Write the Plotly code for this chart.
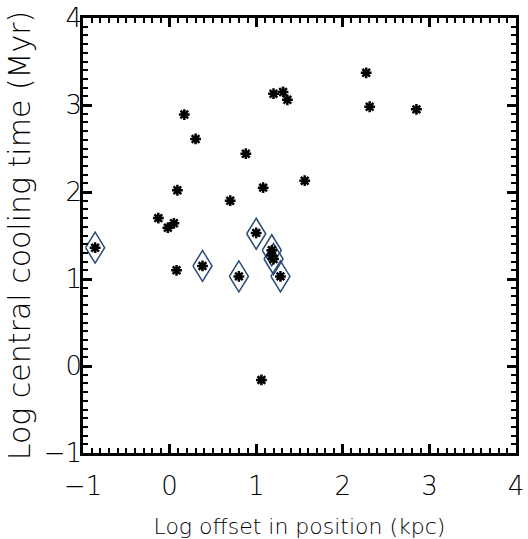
import plotly.graph_objects as go

# Data
star_x = [-0.86, -0.13, -0.02, 0.05, 0.08, 0.09, 0.17, 0.30, 0.38, 0.70, 0.80, 0.88, 1.00,
          1.08, 1.06, 1.18, 1.18, 1.20, 1.28, 1.20, 1.31, 1.36, 1.56, 2.27, 2.31, 2.85]
star_y = [1.36, 1.70, 1.59, 1.64, 1.10, 2.02, 2.89, 2.61, 1.15, 1.90, 1.03, 2.44, 1.53,
          2.05, -0.16, 1.33, 1.27, 1.23, 1.03, 3.13, 3.15, 3.06, 2.13, 3.37, 2.98, 2.95]

diamond_x = [-0.86, 0.38, 0.80, 1.00, 1.18, 1.20, 1.28]
diamond_y = [1.36, 1.15, 1.03, 1.52, 1.33, 1.23, 1.03]

x_range = [-1, 4]
y_range = [-1, 4]

# diamond outline half sizes (data units)
dw, dh = 0.11, 0.178
dxs, dys = [], []
for cx, cy in zip(diamond_x, diamond_y):
    dxs += [cx - dw, cx, cx + dw, cx, cx - dw, None]
    dys += [cy, cy + dh, cy, cy - dh, cy, None]

fig = go.Figure()
fig.add_trace(go.Scatter(x=dxs, y=dys, mode="lines",
                         line=dict(color="#2a4a78", width=1.5),
                         hoverinfo="skip", showlegend=False))
fig.add_trace(go.Scatter(x=star_x, y=star_y, mode="markers",
                         marker=dict(symbol="asterisk-open", size=9, color="black",
                                     line=dict(color="black", width=2.5)),
                         showlegend=False))

tickfont = dict(family="DejaVu Sans", size=26, color="black", weight=200)
xtitlefont = dict(family="DejaVu Sans", size=22, color="black", weight=200)
ytitlefont = dict(family="DejaVu Sans", size=30, color="black", weight=200)

axis_common = dict(showline=True, linecolor="black", linewidth=2.5, mirror="allticks",
                   tickmode="linear", tick0=0, dtick=1,
                   ticks="inside", ticklen=9, tickwidth=2.5, tickcolor="black",
                   showgrid=False, zeroline=False, tickfont=tickfont,
                   minor=dict(ticks="inside", ticklen=5, tickwidth=2, tickcolor="black",
                              tickmode="linear", tick0=0, dtick=0.1, showgrid=False))

fig.update_layout(
    xaxis=dict(range=x_range,
               title=dict(text="Log offset in position (kpc)", font=xtitlefont, standoff=25),
               ticklabelstandoff=8, **axis_common),
    yaxis=dict(range=y_range,
               title=dict(text="Log central cooling time (Myr)", font=ytitlefont, standoff=5),
               ticklabelstandoff=-7, **axis_common),
)

fig.update_layout(width=528, height=539, margin=dict(l=83, r=12, t=18, b=86, autoexpand=False),
                  plot_bgcolor="white", paper_bgcolor="white")

fig.write_html("out.html")
